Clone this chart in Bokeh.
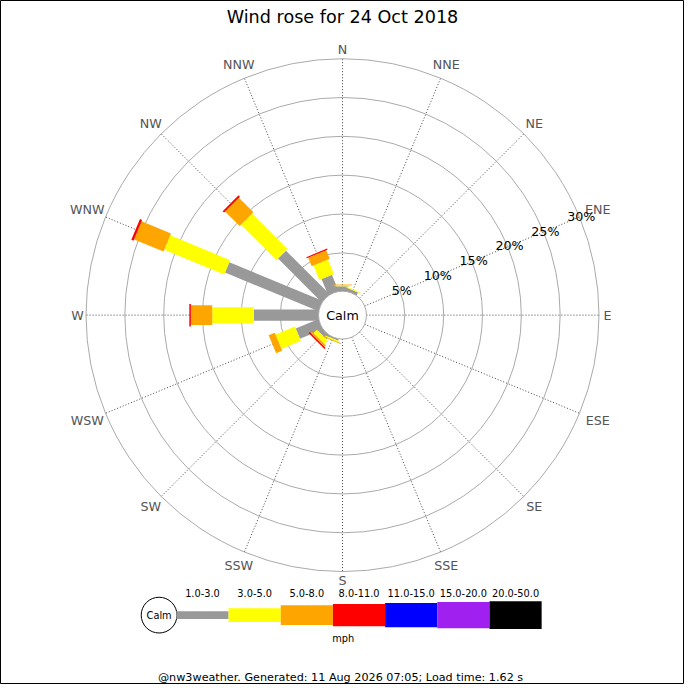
import math
from bokeh.plotting import figure
from bokeh.models import Range1d, ColumnDataSource
from bokeh.embed import file_html
from bokeh.resources import INLINE
from bokeh.core.properties import value

# ---------------- data ----------------
title_text = "Wind rose for 24 Oct 2018"
footer_text = "@nw3weather. Generated: 11 Aug 2026 07:05; Load time: 1.62 s"
unit_text = "mph"
calm_text = "Calm"
directions = ["N", "NNE", "NE", "ENE", "E", "ESE", "SE", "SSE",
              "S", "SSW", "SW", "WSW", "W", "WNW", "NW", "NNW"]
speed_bins = ["1.0-3.0", "3.0-5.0", "5.0-8.0", "8.0-11.0",
              "11.0-15.0", "15.0-20.0", "20.0-50.0"]
bin_colors = ["#999999", "#ffff00", "#ffa500", "#ff0000",
              "#0000ff", "#a020f0", "#000000"]
ring_pcts = [5, 10, 15, 20, 25, 30]

# percent of time per direction in each speed bin
pct_1_3 = [0.70, 0.45, 0, 0, 0, 0, 0, 0, 0, 0.25, 0.65, 3.20, 8.40, 13.05, 8.00, 2.30]
pct_3_5 = [0.12, 0.12, 0, 0, 0, 0, 0, 0, 0, 0.15, 0.60, 2.70, 5.35, 8.35, 6.45, 2.00]
pct_5_8 = [0.10, 0, 0, 0, 0, 0, 0, 0, 0, 0.10, 0.25, 0.85, 2.75, 4.10, 2.65, 1.20]
pct_8_11 = [0, 0, 0, 0, 0, 0, 0, 0, 0, 0, 0.20, 0, 0.20, 0.30, 0.25, 0.16]
pct_11_15 = [0, 0, 0, 0, 0, 0, 0, 0, 0, 0, 0, 0, 0, 0, 0, 0]
pct_15_20 = [0, 0, 0, 0, 0, 0, 0, 0, 0, 0, 0, 0, 0, 0, 0, 0]
pct_20_50 = [0, 0, 0, 0, 0, 0, 0, 0, 0, 0, 0, 0, 0, 0, 0, 0]
series = [pct_1_3, pct_3_5, pct_5_8, pct_8_11, pct_11_15, pct_15_20, pct_20_50]

# ---------------- styling / geometry ----------------
W = H = 684
S = W / 700.0
FONT = "DejaVu Sans"
CALM_R = 24.5
R0, K = 24.0, 7.95          # radius = R0 + K * percent
bar_half = [5.75, 8.0, 10.0, 11.5, 12.5, 13.5, 14.2]
leg_thick = [7.7, 14.3, 20.3, 23.0, 25.0, 27.0, 28.3]


def rad(p):
    return R0 + K * p


def fs(px):
    return f"{px * S:.1f}px"


p = figure(width=W, height=H, output_backend="svg", toolbar_location=None,
           x_range=Range1d(-350, 350), y_range=Range1d(-378, 322),
           x_axis_type=None, y_axis_type=None, min_border=0)
p.outline_line_color = "black"
p.outline_line_width = 1
p.background_fill_color = "white"
p.border_fill_color = "white"

# rings
ring_r = [rad(v) for v in ring_pcts]
p.circle(x=[0] * len(ring_r), y=[0] * len(ring_r), radius=ring_r,
         fill_alpha=0, line_color="#aaaaaa", line_width=1)

# direction spokes
angles = [i * 22.5 for i in range(16)]
r_out = rad(ring_pcts[-1])
sx0 = [CALM_R * math.sin(math.radians(a)) for a in angles]
sy0 = [CALM_R * math.cos(math.radians(a)) for a in angles]
sx1 = [r_out * math.sin(math.radians(a)) for a in angles]
sy1 = [r_out * math.cos(math.radians(a)) for a in angles]
p.segment(x0=sx0, y0=sy0, x1=sx1, y1=sy1, line_color="#444444",
          line_width=1, line_dash="1 2")

# direction labels
lx, ly = [], []
for a, name in zip(angles, directions):
    t = math.radians(a)
    w = 0.8 * 13 * len(name)
    rr = 266 + 0.5 * w * abs(math.sin(t)) + 6 * abs(math.cos(t))
    lx.append(rr * math.sin(t))
    ly.append(rr * math.cos(t))
p.text(x=lx, y=ly, text=directions, text_font=value(FONT), text_font_size=fs(13),
       text_color="#555555", text_align="center", text_baseline="middle")

# percent labels along ENE
ta = math.radians(67.5)
px_ = [(rad(v) + 2) * math.sin(ta) for v in ring_pcts]
py_ = [(rad(v) + 2) * math.cos(ta) for v in ring_pcts]
p.text(x=px_, y=py_, text=[f"{v}%" for v in ring_pcts], text_font=value(FONT),
       text_font_size=fs(13), text_color="black", text_align="center",
       text_baseline="middle")

# bars
for j, vals in enumerate(series):
    xs, ys = [], []
    for i, a in enumerate(angles):
        before = sum(series[k][i] for k in range(j))
        v = vals[i]
        if v <= 0:
            continue
        r1, r2 = rad(before), rad(before + v)
        t = math.radians(a)
        ux, uy = math.sin(t), math.cos(t)
        vx, vy = math.cos(t), -math.sin(t)
        hw = bar_half[j]
        xs.append([r1 * ux + hw * vx, r2 * ux + hw * vx, r2 * ux - hw * vx, r1 * ux - hw * vx])
        ys.append([r1 * uy + hw * vy, r2 * uy + hw * vy, r2 * uy - hw * vy, r1 * uy - hw * vy])
    if xs:
        p.patches(xs=xs, ys=ys, fill_color=bin_colors[j], line_color=None)

# calm circle
p.circle(x=[0], y=[0], radius=[CALM_R], fill_color="white", line_color="#aaaaaa")
p.text(x=[0], y=[0], text=[calm_text], text_font=value(FONT), text_font_size=fs(13),
       text_color="black", text_align="center", text_baseline="middle")

# title
p.text(x=[0], y=[305], text=[title_text], text_font=value(FONT), text_font_size=fs(18),
       text_color="black", text_align="center", text_baseline="middle")

# legend
LEG_Y = -307
SEG_W = 53.4
LEG_X0 = -170
p.circle(x=[-187.7], y=[LEG_Y], radius=[18.3], fill_color="white", line_color="black")
p.text(x=[-187.7], y=[LEG_Y], text=[calm_text], text_font=value(FONT), text_font_size=fs(10),
       text_color="black", text_align="center", text_baseline="middle")
seg_cx = [LEG_X0 + SEG_W * (k + 0.5) for k in range(len(speed_bins))]
p.rect(x=seg_cx, y=[LEG_Y] * len(seg_cx), width=SEG_W, height=leg_thick,
       fill_color=bin_colors, line_color=None)
p.text(x=seg_cx, y=[-284.7] * len(seg_cx), text=speed_bins, text_font=value(FONT),
       text_font_size=fs(10), text_color="black", text_align="center",
       text_baseline="middle")
p.text(x=[0.7], y=[-331.3], text=[unit_text], text_font=value(FONT), text_font_size=fs(10),
       text_color="black", text_align="center", text_baseline="middle")

# footer
p.text(x=[-2], y=[-370.7], text=[footer_text], text_font=value(FONT), text_font_size=fs(11.5),
       text_color="black", text_align="center", text_baseline="middle")

open("out.html", "w").write(file_html(p, INLINE))
